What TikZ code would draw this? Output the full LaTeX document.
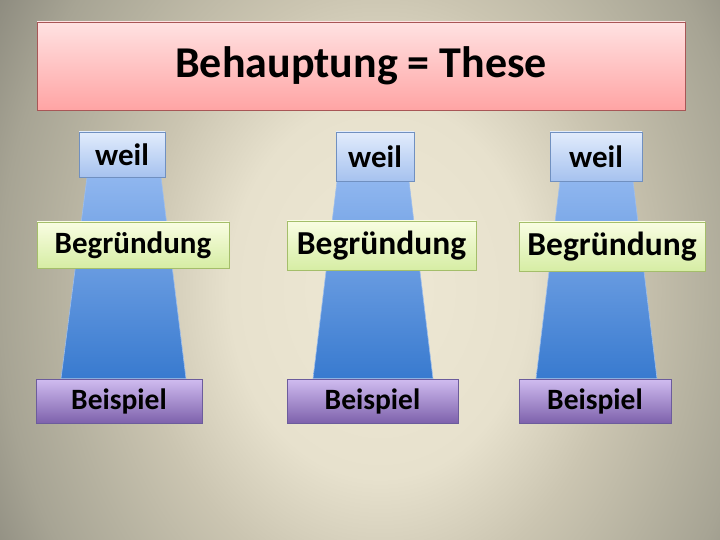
\documentclass[tikz,border=0pt]{standalone}
\usepackage{fontspec}
\setmainfont{Carlito}
\usetikzlibrary{calc}
\definecolor{bga}{HTML}{EEE8D4}
\definecolor{bgb}{HTML}{E7E1CD}
\definecolor{bgc}{HTML}{CBC5B1}
\definecolor{bgd}{HTML}{B6B2A0}
\definecolor{bge}{HTML}{A7A494}
\definecolor{bgf}{HTML}{8C8A7E}
\definecolor{bgg}{HTML}{888679}
\definecolor{titletop}{HTML}{FFE2E2}
\definecolor{titlebot}{HTML}{FFA4A4}
\definecolor{titleborder}{HTML}{A85656}
\definecolor{weiltop}{HTML}{E2ECFC}
\definecolor{weilbot}{HTML}{A6C2EF}
\definecolor{weilborder}{HTML}{7090C0}
\definecolor{begtop}{HTML}{F9FDE2}
\definecolor{begbot}{HTML}{D6EDA4}
\definecolor{begborder}{HTML}{A4BE6A}
\definecolor{bsptop}{HTML}{D0BCF0}
\definecolor{bspbot}{HTML}{7E62AC}
\definecolor{bspborder}{HTML}{6C5C9C}
\definecolor{traptop}{HTML}{8FB6EF}
\definecolor{trapbot}{HTML}{387ACF}
\definecolor{trapborder}{HTML}{9EBEEC}
\pgfdeclareradialshading{bgshade}{\pgfpoint{0bp}{0bp}}{%
  color(0bp)=(bga); color(150bp)=(bgb); color(240bp)=(bgc); color(320bp)=(bgd);
  color(380bp)=(bge); color(450bp)=(bgf); color(500bp)=(bgg)}
\pgfdeclarelayer{back}
\pgfsetlayers{back,main}
\tikzset{
  titlebox/.style={draw=titleborder, line width=0.9pt, top color=titletop, bottom color=titlebot,
    minimum width=648pt, minimum height=88pt, inner sep=0pt, font=\fontsize{44}{50}\selectfont\bfseries},
  weilbox/.style={draw=weilborder, line width=0.7pt, top color=weiltop, bottom color=weilbot,
    inner sep=0pt, font=\fontsize{31}{36}\selectfont\bfseries},
  begbox/.style={draw=begborder, line width=0.7pt, top color=begtop, bottom color=begbot,
    inner sep=0pt, font=\fontsize{33.5}{38}\selectfont\bfseries},
  bspbox/.style={draw=bspborder, line width=0.7pt, top color=bsptop, bottom color=bspbot,
    inner sep=0pt, minimum height=44pt, font=\fontsize{29.5}{34}\selectfont\bfseries},
  trap/.style={draw=trapborder, line width=0.6pt, top color=traptop, bottom color=trapbot}
}
\begin{document}
\begin{tikzpicture}[x=1pt,y=-1pt]
\useasboundingbox (0,0) rectangle (720,540);
\begin{pgfonlayer}{back}
\begin{scope}
\clip (0,0) rectangle (720,540);
\begin{pgfscope}
\pgftransformshift{\pgfpoint{380pt}{-290pt}}
\pgftransformyscale{1.25}
\pgflowlevelsynccm
\pgftext{\pgfuseshading{bgshade}}
\end{pgfscope}
\end{scope}
\end{pgfonlayer}

\node[titlebox] (title) at (361,66) {\raisebox{-3pt}{Behauptung = These}};

\node[weilbox, minimum width=86pt, minimum height=45pt] (w1) at (122,154.5) {weil};
\node[weilbox, minimum width=78pt, minimum height=49pt] (w2) at (375,156.5) {weil};
\node[weilbox, minimum width=92pt, minimum height=49pt] (w3) at (596,156.5) {weil};

\node[begbox, minimum width=192pt, minimum height=46pt, font=\fontsize{31}{36}\selectfont\bfseries] (b1) at (133,245) {Begründung};
\node[begbox, minimum width=189pt, minimum height=49pt] (b2) at (381.5,245.5) {Begründung};
\node[begbox, minimum width=186pt, minimum height=49pt] (b3) at (612,246.5) {Begründung};

\node[bspbox, minimum width=166pt] (s1) at (119,401) {Beispiel};
\node[bspbox, minimum width=171pt] (s2) at (372.5,401) {Beispiel};
\node[bspbox, minimum width=152pt] (s3) at (595,401) {Beispiel};

\begin{pgfonlayer}{back}
\shade[trap] ($(w1.south)+(-35,0)$) -- ($(w1.south)+(39,0)$) -- ($(s1.north)+(67,0)$) -- ($(s1.north)+(-58,0)$) -- cycle;
\shade[trap] ($(w2.south)+(-38,0)$) -- ($(w2.south)+(34,0)$) -- ($(s2.north)+(60.5,0)$) -- ($(s2.north)+(-59.5,0)$) -- cycle;
\shade[trap] ($(w3.south)+(-36,0)$) -- ($(w3.south)+(37,0)$) -- ($(s3.north)+(62,0)$) -- ($(s3.north)+(-59,0)$) -- cycle;
\end{pgfonlayer}
\end{tikzpicture}
\end{document}
